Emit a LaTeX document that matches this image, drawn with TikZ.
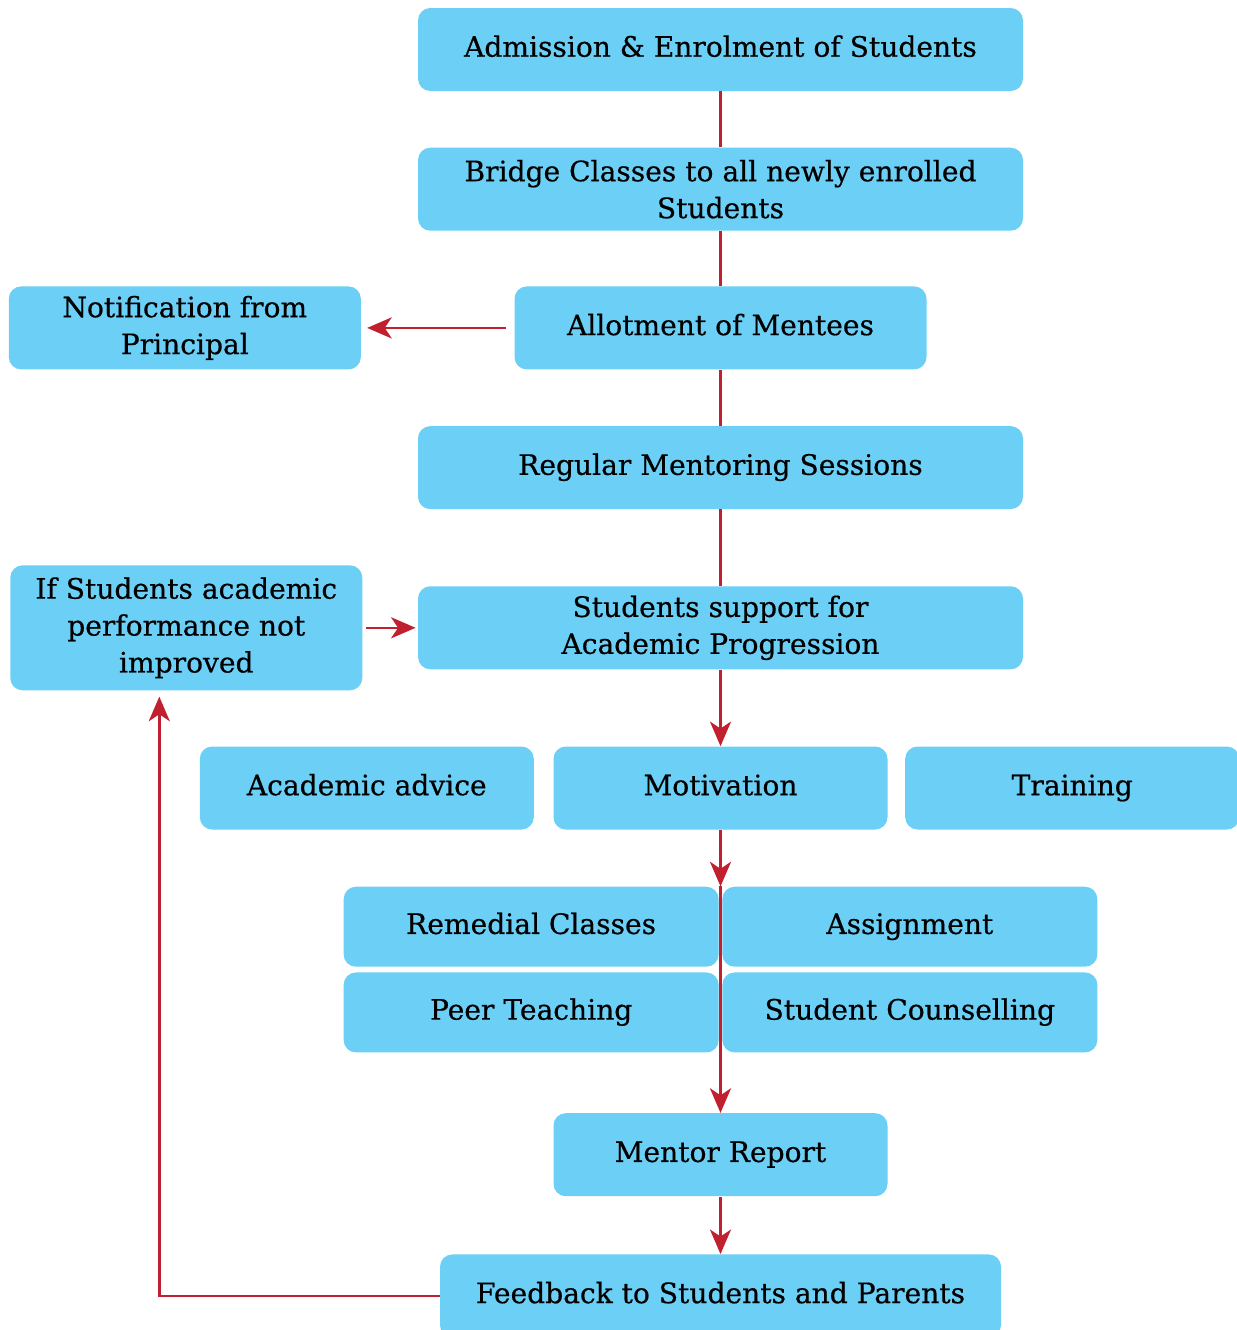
\documentclass[tikz,border=0pt]{standalone}
\usepackage{fontspec}
\setmainfont{DejaVu Serif}[RawFeature={embolden=0.5}]
\usetikzlibrary{arrows.meta,positioning}
\definecolor{boxblue}{HTML}{6CCFF6}
\definecolor{linkred}{HTML}{C1202F}

\begin{document}
\begin{tikzpicture}[
  node distance=1.12cm and 0.36cm,
  box/.style={
    rectangle, rounded corners=7pt, draw=none, fill=boxblue,
    align=center, font=\fontsize{16}{21}\selectfont,
    minimum height=1.66cm, inner sep=2pt
  },
  single/.style={text height=0.85em, text depth=0.03em},
  stage/.style={box, minimum width=12.1cm},
  side/.style={box, minimum width=7.04cm},
  branch/.style={box, single, minimum width=6.68cm},
  task/.style={box, single, minimum width=7.5cm, minimum height=1.6cm},
  link/.style={line width=1.5pt, linkred},
  arr/.style={-{Stealth[length=14pt, width=12pt, inset=4pt]}, line width=1.5pt, linkred},
]
\useasboundingbox (0,0) rectangle (24.74,-26.6);

% ── Nodes ──
\node[stage, single] (admission) at (14.41,-0.99)
  {Admission \& Enrolment of Students};

\node[stage, below=of admission] (bridge)
  {Bridge Classes to all newly enrolled\\Students};

\node[box, single, minimum width=8.24cm, below=1.1cm of bridge] (allotment)
  {Allotment of Mentees};

\node[side, left=3.06cm of allotment] (notification)
  {Notification from\\Principal};

\node[stage, single, below=of allotment] (regular)
  {Regular Mentoring Sessions};

\node[stage, below=1.53cm of regular] (support)
  {Students support for\\Academic Progression};

\node[side, minimum height=2.5cm, left=1.1cm of support] (ifnot)
  {If Students academic\\performance not\\improved};

\node[branch, below=1.53cm of support] (motivation)
  {Motivation};

\node[branch, left=0.38cm of motivation] (advice)
  {Academic advice};

\node[branch, right=0.34cm of motivation] (training)
  {Training};

\node[task, below left=1.13cm and 0.03cm of motivation.south] (remedial)
  {Remedial Classes};

\node[task, right=0.06cm of remedial] (assignment)
  {Assignment};

\node[task, below=0.1cm of remedial] (peer)
  {Peer Teaching};

\node[task, below=0.1cm of assignment] (counselling)
  {Student Counselling};

\node[branch, below=5.66cm of motivation] (mentor)
  {Mentor Report};

\node[box, single, minimum width=11.22cm, below=1.15cm of mentor] (feedback)
  {Feedback to Students and Parents};

\coordinate (gridtop) at (motivation |- remedial.north);

% ── Edges ──
\draw[link] (admission) -- (bridge);
\draw[link] (bridge) -- (allotment);
\draw[arr, shorten <=0.16cm, shorten >=0.12cm] (allotment) -- (notification);
\draw[link] (allotment) -- (regular);
\draw[link] (regular) -- (support);
\draw[arr] (support) -- (motivation);
\draw[arr, shorten <=0.06cm, shorten >=0.04cm] (ifnot) -- (support);
\draw[arr] (motivation) -- (gridtop);
\draw[arr] (gridtop) -- (mentor);
\draw[arr] (mentor) -- (feedback);
\draw[arr, shorten >=0.12cm] (feedback.west) -| ([xshift=-0.54cm]ifnot.south);
\end{tikzpicture}
\end{document}
